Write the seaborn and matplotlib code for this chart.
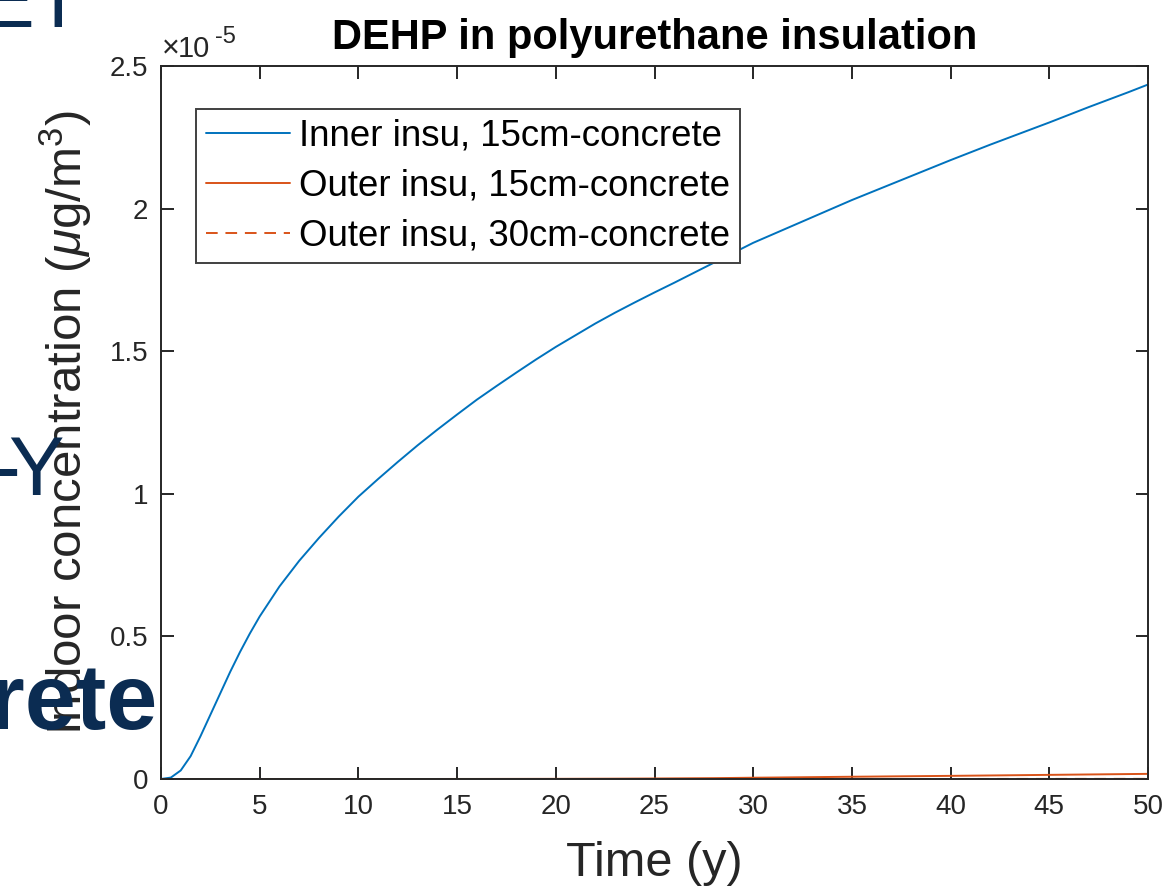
import numpy as np
import pandas as pd
import matplotlib
matplotlib.use("Agg")
import matplotlib.pyplot as plt
import seaborn as sns
from matplotlib.ticker import FuncFormatter

# ---------------- data (values in units of 1e-5 ug/m3) ----------------
time_y = [0, 0.5, 1, 1.5, 2, 2.5, 3, 3.5, 4, 4.5, 5, 6, 7, 8, 9, 10, 11, 12, 13,
          14, 15, 16, 17, 18, 19, 20, 21, 22, 23, 24, 25, 26, 27, 28, 29, 30,
          31, 32, 33, 34, 35, 36, 37, 38, 39, 40, 41, 42, 43, 44, 45, 46, 47,
          48, 49, 50]
inner_15cm = [0, 0.005, 0.03, 0.08, 0.15, 0.225, 0.30, 0.375, 0.445, 0.51, 0.57,
              0.675, 0.765, 0.845, 0.92, 0.99, 1.052, 1.112, 1.17, 1.225, 1.278,
              1.33, 1.378, 1.425, 1.471, 1.515, 1.556, 1.597, 1.635, 1.671, 1.706,
              1.74, 1.775, 1.81, 1.845, 1.88, 1.91, 1.94, 1.97, 2.0, 2.03, 2.058,
              2.086, 2.114, 2.142, 2.17, 2.197, 2.224, 2.25, 2.276, 2.302, 2.329,
              2.356, 2.382, 2.408, 2.435]
outer_15cm = [0, 0, 0, 0, 0, 0, 0, 0, 0, 0, 0, 0, 0, 0, 0, 0, 0, 0, 0.0001,
              0.0001, 0.0002, 0.0002, 0.0003, 0.0004, 0.0005, 0.0006, 0.0008,
              0.001, 0.0012, 0.0015, 0.0018, 0.0022, 0.0026, 0.003, 0.0037,
              0.0045, 0.0051, 0.0058, 0.0065, 0.0072, 0.0079, 0.0085, 0.0092,
              0.0098, 0.0104, 0.011, 0.0117, 0.0124, 0.0131, 0.0138, 0.0145,
              0.0152, 0.0159, 0.0166, 0.0173, 0.018]
outer_30cm = [0, 0, 0, 0, 0, 0, 0, 0, 0, 0, 0, 0, 0, 0, 0, 0, 0, 0, 0, 0, 0, 0,
              0, 0, 0, 0, 0, 0, 0, 0, 0, 0, 0, 0, 0, 0, 0, 0, 0, 0, 0, 0, 0,
              0.0001, 0.0001, 0.0001, 0.0002, 0.0002, 0.0003, 0.0003, 0.0003,
              0.0004, 0.0004, 0.0004, 0.0005, 0.0005]
unit_scale = 1e-5
series_labels = ["Inner insu, 15cm-concrete", "Outer insu, 15cm-concrete",
                 "Outer insu, 30cm-concrete"]
series_colors = ["#0072BD", "#D95319", "#D95319"]
y_ticks = [0, 0.5, 1, 1.5, 2, 2.5]
x_ticks = [0, 5, 10, 15, 20, 25, 30, 35, 40, 45, 50]
title_text = "DEHP in polyurethane insulation"
xlabel_text = "Time (y)"
ylabel_text = r"Indoor concentration ($\mu$g/m$^3$)"

# ---------------- style ----------------
sns.set_style("white")
plt.rcParams["font.family"] = ["Liberation Sans", "DejaVu Sans"]
plt.rcParams["mathtext.fontset"] = "custom"
plt.rcParams["mathtext.rm"] = "Liberation Sans"
plt.rcParams["mathtext.it"] = "Liberation Sans:italic"
plt.rcParams["mathtext.bf"] = "Liberation Sans:bold"

W, H = 1162, 891
fig = plt.figure(figsize=(W / 100, H / 100), dpi=100)
fig.patch.set_facecolor("white")

# background slide fragments (behind the figure)
navy = "#0B2C52"
fig.text(20 / W, 1 - 495 / H, "-", fontsize=60, color=navy, ha="right",
         va="baseline", zorder=0)
fig.text(64 / W, 1 - 495 / H, "Y", fontsize=60, color=navy, ha="right",
         va="baseline", zorder=0)
fig.text(158 / W, 1 - 729 / H, "crete", fontsize=66, fontweight="bold",
         color=navy, ha="right", va="baseline", zorder=0)
fig.text(-20 / W, 1 - 27 / H, "ET", fontsize=58, color=navy, ha="left",
         va="baseline", zorder=0)

left, right, top, bottom = 161, 1148, 66, 779
ax = fig.add_axes([left / W, 1 - bottom / H, (right - left) / W, (bottom - top) / H])
ax.set_facecolor("none")

t = np.array(time_y)
all_series = [inner_15cm, outer_15cm, outer_30cm]
for vals, lab, col in zip(all_series, series_labels, series_colors):
    sns.lineplot(x=t, y=np.array(vals) * unit_scale, ax=ax, color=col,
                 linewidth=1.4, label=lab)
ax.lines[2].set_dashes([6, 4])

ax.set_xlim(0, 50)
ax.set_ylim(0, 2.5 * unit_scale)
ax.set_xticks(x_ticks)
ax.set_yticks([v * unit_scale for v in y_ticks])
ax.yaxis.set_major_formatter(FuncFormatter(lambda v, p: f"{v / unit_scale:g}"))
ax.xaxis.set_major_formatter(FuncFormatter(lambda v, p: f"{v:g}"))

for s in ax.spines.values():
    s.set_visible(True)
    s.set_color("#262626")
    s.set_linewidth(1.4)
ax.tick_params(direction="in", length=9, width=1.4, colors="#262626",
               labelsize=20, top=True, right=True, left=True, bottom=True,
               labelcolor="#262626")
ax.tick_params(axis="x", pad=11)
ax.tick_params(axis="y", pad=9)

# exponent label (MATLAB style)
fig.text(162 / W, 1 - 57 / H, "\u00d7", fontsize=22, color="#262626",
         ha="left", va="baseline", fontweight="light")
fig.text(178 / W, 1 - 57 / H, "10", fontsize=21, color="#262626",
         ha="left", va="baseline")
fig.text(215 / W, 1 - 43 / H, "-5", fontsize=17, color="#262626",
         ha="left", va="baseline")

ax.set_title(title_text, fontsize=30, fontweight="bold", color="black", pad=12)
ax.set_xlabel(xlabel_text, fontsize=35, color="#262626", labelpad=15)
ax.set_ylabel(ylabel_text, fontsize=35.5, color="#262626")
ax.yaxis.set_label_coords(-0.068, 0.5)

leg = ax.legend(loc="upper left", bbox_to_anchor=((196 - left) / (right - left),
                (bottom - 109) / (bottom - top)), borderaxespad=0, fontsize=26.4,
                frameon=True, fancybox=False, edgecolor="#404040",
                handlelength=2.3, handletextpad=0.25, labelspacing=0.41,
                borderpad=0.26)
leg.get_frame().set_linewidth(1.4)
leg.get_frame().set_alpha(1)
for txt in leg.get_texts():
    txt.set_color("black")

fig.savefig("out.png", dpi=100, facecolor="white")
